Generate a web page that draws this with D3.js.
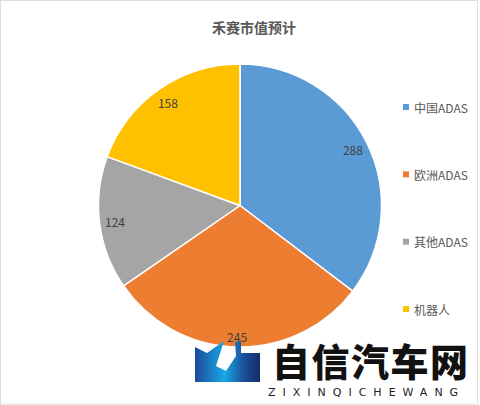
<!DOCTYPE html>
<html>
<head>
<meta charset="utf-8">
<script src="https://cdn.jsdelivr.net/npm/d3@7"></script>
<style>
  html, body { margin: 0; padding: 0; background: #fff; }
  svg { display: block; }
</style>
</head>
<body>
<svg id="chart" width="480" height="405"></svg>
<script>
// Market value forecast, split by segment
const categories = ["中国ADAS", "欧洲ADAS", "其他ADAS", "机器人"];
const values = [288, 245, 124, 158];
const colors = ["#5B9BD5", "#ED7D31", "#A5A5A5", "#FFC000"];
const title = "禾赛市值预计";

const W = 480, H = 405;
const cx = 240, cy = 205.5, R = 141.5;

const svg = d3.select("#chart");
const font = "'Noto Sans CJK SC', 'Noto Sans', sans-serif";

// chart frame
svg.append("rect")
  .attr("x", 0.5).attr("y", 0.5)
  .attr("width", W - 3).attr("height", H - 1.5)
  .attr("fill", "#fff").attr("stroke", "#dedede");

svg.append("text")
  .attr("x", 254).attr("y", 27)
  .attr("text-anchor", "middle").attr("dominant-baseline", "central")
  .attr("font-family", font).attr("font-size", 14).attr("font-weight", "bold")
  .attr("fill", "#595959")
  .text(title);

const color = d3.scaleOrdinal().domain(categories).range(colors);

const pie = d3.pie().sort(null).value(d => d.value);
const data = categories.map((c, i) => ({ name: c, value: values[i] }));
const arcs = pie(data);

const arc = d3.arc().innerRadius(0).outerRadius(R);
const labelArc = d3.arc().innerRadius(R - 15.5).outerRadius(R - 15.5);

const g = svg.append("g").attr("transform", `translate(${cx},${cy})`);

g.selectAll("path.slice")
  .data(arcs)
  .join("path")
  .attr("class", "slice")
  .attr("d", arc)
  .attr("fill", d => color(d.data.name))
  .attr("stroke", "#fff")
  .attr("stroke-width", 1.5)
  .attr("stroke-linejoin", "round");

g.selectAll("text.val")
  .data(arcs)
  .join("text")
  .attr("class", "val")
  .attr("transform", d => {
    const [x, y] = labelArc.centroid(d);
    // bottom label sits a little lower, closer to the rim
    const mid = (d.startAngle + d.endAngle) / 2;
    const extra = Math.max(0, -Math.cos(mid)) * 5;
    return `translate(${x},${y + extra})`;
  })
  .attr("text-anchor", "middle").attr("dominant-baseline", "central")
  .attr("font-family", font).attr("font-size", 12)
  .attr("fill", "#404040")
  .text(d => d.data.value);

// legend
const legendY = d3.scalePoint().domain(categories).range([107, 309]);
const lg = svg.append("g");
const item = lg.selectAll("g").data(categories).join("g")
  .attr("transform", d => `translate(406,${legendY(d)})`);
item.append("rect")
  .attr("x", -3).attr("y", -3).attr("width", 6).attr("height", 6)
  .attr("fill", d => color(d));
item.append("text")
  .attr("x", 8).attr("y", 0)
  .attr("dominant-baseline", "central")
  .attr("font-family", font).attr("font-size", 12)
  .attr("fill", "#595959")
  .text(d => d);

// site watermark
const defs = svg.append("defs");
const grad = defs.append("linearGradient").attr("id", "wmGrad")
  .attr("gradientUnits", "userSpaceOnUse")
  .attr("x1", 195).attr("y1", 0).attr("x2", 260).attr("y2", 0);
grad.append("stop").attr("offset", "0").attr("stop-color", "#1b4a9a");
grad.append("stop").attr("offset", "0.45").attr("stop-color", "#19a8e6");
grad.append("stop").attr("offset", "0.75").attr("stop-color", "#1b4f9c");
grad.append("stop").attr("offset", "1").attr("stop-color", "#142d66");

const wm = svg.append("g");
wm.append("path")
  .attr("d", "M195,347 L207,353 L224,341 L216,366 L226,371 L236,356 L235,342 L241,341 L241,353 L260,353 L260,382 L195,382 Z")
  .attr("fill", "url(#wmGrad)");
wm.append("text")
  .attr("x", 272).attr("y", 359)
  .attr("dominant-baseline", "central")
  .attr("font-family", "'Noto Sans CJK SC', sans-serif")
  .attr("font-size", 38).attr("font-weight", 900)
  .attr("letter-spacing", 1.5)
  .attr("fill", "#111")
  .text("自信汽车网");
wm.append("text")
  .attr("x", 268).attr("y", 392)
  .attr("dominant-baseline", "central")
  .attr("font-family", "'DejaVu Sans', sans-serif")
  .attr("font-size", 11)
  .attr("letter-spacing", 7)
  .attr("fill", "#222")
  .text("ZIXINQICHEWANG");
</script>
</body>
</html>
